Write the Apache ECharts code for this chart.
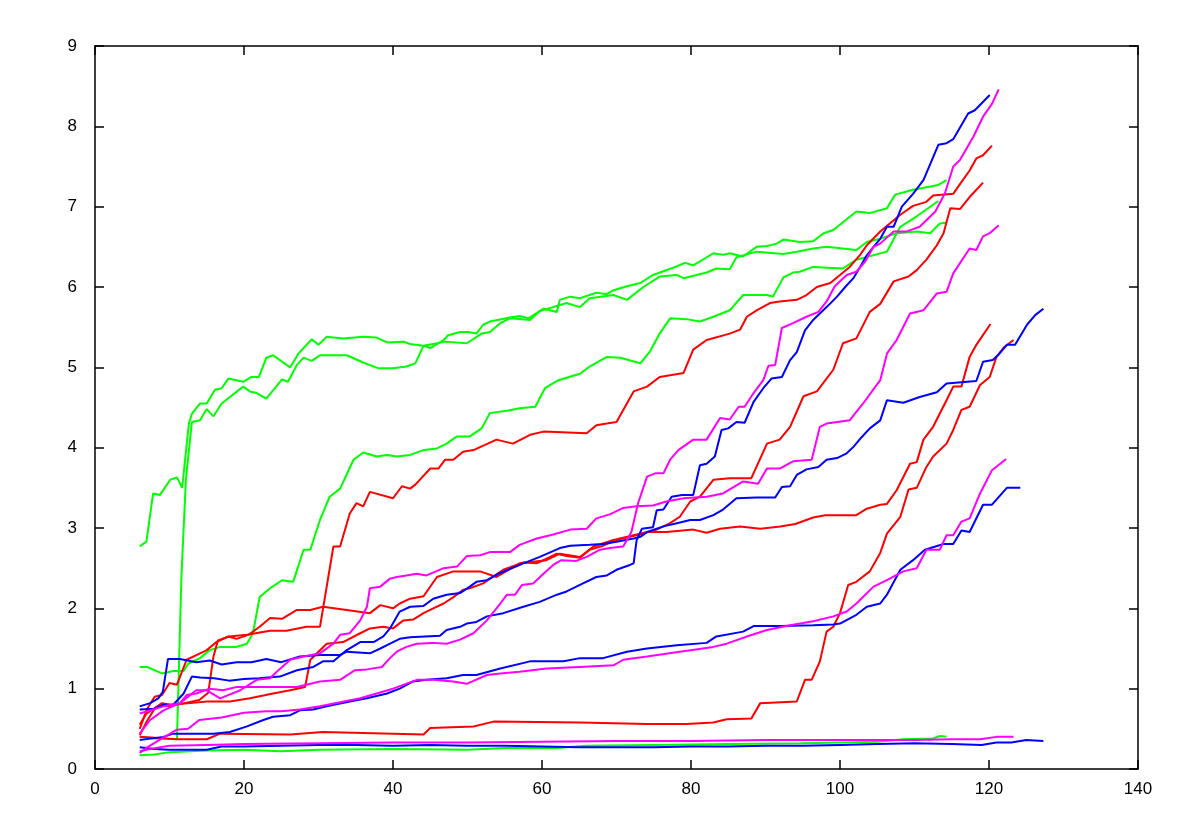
<!DOCTYPE html>
<html>
<head>
<meta charset="utf-8">
<script src="https://cdn.jsdelivr.net/npm/echarts@6/dist/echarts.min.js"></script>
<style>
  html, body { margin: 0; padding: 0; background: #fff; }
  #chart { width: 1196px; height: 823px; }
</style>
</head>
<body>
<div id="chart"></div>
<script>
// axis ticks
var xTicks = [0, 20, 40, 60, 80, 100, 120, 140];
var yTicks = [0, 1, 2, 3, 4, 5, 6, 7, 8, 9];

// green runs
var green1 = [[6,2.77],[6.9,2.83],[7.8,3.43],[8.7,3.41],[10.1,3.6],[11,3.63],[11.7,3.5],[12.6,4.3],[13,4.42],[14.1,4.55],[15,4.55],[16.1,4.72],[17,4.74],[17.9,4.86],[19.9,4.82],[21,4.88],[22,4.88],[23,5.12],[23.9,5.15],[26.2,5.0],[27.3,5.17],[29.1,5.35],[30,5.28],[31.1,5.38],[33.3,5.36],[36,5.38],[37.8,5.37],[39.2,5.31],[41.4,5.32],[42.3,5.29],[44.1,5.27],[45,5.24],[46.8,5.34],[47.4,5.4],[49,5.44],[50.1,5.44],[51.2,5.42],[52.1,5.53],[53,5.57],[55.7,5.62],[57,5.64],[58.2,5.61],[60.2,5.73],[62,5.69],[62.4,5.84],[63.8,5.88],[65.1,5.86],[67.3,5.93],[68.7,5.91],[69.6,5.96],[71.4,6.01],[73.2,6.05],[74.9,6.15],[77.6,6.24],[79.2,6.3],[80.3,6.27],[83,6.42],[84.3,6.4],[85.2,6.42],[87,6.38],[88.8,6.5],[90.2,6.51],[91.5,6.54],[92.4,6.59],[94.6,6.56],[96.4,6.57],[97.8,6.67],[99.1,6.71],[102.2,6.94],[104,6.92],[106.3,6.98],[107.4,7.15],[109.8,7.21],[113.2,7.27],[114.3,7.33]];
var green2 = [[6,0.4],[8,0.38],[11,0.37],[11.6,2.4],[12.2,3.6],[13,4.32],[14.1,4.34],[15,4.48],[15.9,4.39],[17,4.55],[18.1,4.63],[19.9,4.76],[20.8,4.7],[21.7,4.68],[23,4.61],[25.1,4.85],[25.9,4.82],[27.1,5.03],[28,5.12],[29.1,5.08],[30.2,5.15],[33.8,5.15],[36,5.06],[38,4.99],[40,4.99],[41.8,5.01],[43,5.05],[44.1,5.27],[47,5.32],[49.9,5.3],[51.9,5.42],[53,5.44],[54.4,5.55],[55.7,5.61],[58.4,5.59],[59.7,5.7],[63.3,5.8],[65.1,5.75],[66.4,5.86],[69.6,5.9],[71.4,5.84],[73.6,6.0],[75.8,6.13],[78.1,6.15],[79,6.11],[82.1,6.18],[83.4,6.23],[85.2,6.22],[86.1,6.37],[88.8,6.44],[92.4,6.41],[94.2,6.44],[96.4,6.48],[98.2,6.5],[102.2,6.46],[103.6,6.56],[105.4,6.6],[107.6,6.67],[110.3,6.69],[112.1,6.67],[113.4,6.79],[114.3,6.8]];
var green3 = [[6,1.27],[7,1.27],[9,1.19],[10.5,1.22],[11.9,1.22],[12.5,1.31],[14.1,1.38],[15.4,1.48],[16.8,1.52],[19,1.52],[20.4,1.56],[21.2,1.69],[22.1,2.14],[23.5,2.25],[25.1,2.35],[26.6,2.33],[28,2.73],[28.9,2.73],[30.2,3.1],[31.5,3.39],[32.9,3.49],[34.7,3.85],[36,3.94],[37.8,3.89],[39.2,3.91],[40.5,3.89],[42.3,3.91],[44.1,3.97],[45.9,3.99],[47.2,4.05],[48.6,4.14],[50.3,4.14],[51.9,4.24],[53,4.43],[55.3,4.46],[57,4.49],[59.1,4.51],[60.4,4.74],[62.2,4.84],[65.1,4.92],[66.4,5.01],[68.7,5.13],[70.5,5.12],[73.2,5.05],[74.5,5.2],[75.8,5.42],[77.2,5.61],[79.4,5.6],[81.2,5.57],[83,5.63],[85.2,5.71],[87,5.9],[90.2,5.9],[91,5.88],[92.4,6.12],[93.7,6.18],[94.6,6.19],[96.4,6.25],[100.4,6.23],[102.2,6.34],[106.3,6.44],[108.1,6.75],[110.3,6.88],[113.2,7.07]];
var green4 = [[6,0.17],[8,0.18],[10,0.21],[15,0.23],[20,0.24],[25,0.22],[30,0.24],[40,0.25],[50,0.24],[55,0.26],[62,0.26],[66,0.29],[75,0.3],[85,0.31],[95,0.32],[100,0.33],[105,0.34],[108.5,0.37],[112.5,0.38],[113.4,0.41],[114.3,0.4]];

// red runs
var red1 = [[6,0.42],[7,0.6],[8,0.75],[9,0.8],[10,0.78],[12,0.82],[14,0.86],[15.2,0.95],[15.9,1.4],[16.5,1.6],[18,1.65],[20.4,1.67],[23.5,1.72],[25.7,1.72],[28.4,1.77],[30.2,1.77],[32,2.77],[32.9,2.77],[34.2,3.18],[35.1,3.31],[36,3.27],[36.9,3.45],[40,3.37],[41.2,3.52],[42.3,3.49],[43,3.54],[45,3.74],[46.1,3.74],[47,3.85],[48.1,3.85],[49.4,3.95],[50.8,3.97],[53.9,4.1],[56.1,4.05],[58.4,4.16],[60.2,4.2],[66,4.18],[67.3,4.28],[68.7,4.3],[70,4.32],[72.3,4.7],[74.1,4.76],[75.8,4.88],[79,4.93],[80.3,5.22],[82.1,5.34],[85.2,5.42],[86.6,5.47],[87.5,5.63],[88.8,5.71],[90.6,5.8],[91.9,5.82],[94.2,5.84],[95.5,5.9],[96.9,6.0],[98.7,6.05],[100,6.15],[101.3,6.25],[102.7,6.4],[103.6,6.52],[105.4,6.69],[108.1,6.9],[109.8,7.01],[111.6,7.06],[112.5,7.14],[115.2,7.16],[116.1,7.28],[117.4,7.45],[118.3,7.6],[119.2,7.64],[120.4,7.76]];
var red2 = [[6,0.55],[6.9,0.69],[9,0.82],[10.1,0.8],[12.8,0.82],[15,0.84],[18.1,0.84],[20.8,0.88],[23.9,0.94],[26.2,0.98],[28.2,1.02],[28.9,1.36],[31.1,1.56],[33.3,1.58],[35.6,1.69],[36.9,1.75],[38.7,1.77],[40,1.75],[41.4,1.85],[42.7,1.86],[44.1,1.94],[45.4,2.0],[46.8,2.06],[48.1,2.14],[49.4,2.23],[50.3,2.25],[52.1,2.31],[54.8,2.48],[57.5,2.57],[59.3,2.56],[62,2.68],[63.3,2.65],[65.1,2.63],[66.4,2.73],[68.2,2.78],[70,2.85],[71.8,2.89],[73.6,2.93],[75.4,2.98],[77.2,3.06],[78.5,3.14],[79.9,3.33],[81.2,3.39],[83,3.6],[85.2,3.62],[88.1,3.62],[90.2,4.05],[91.9,4.1],[93.3,4.26],[95.1,4.64],[96.9,4.7],[99.1,4.97],[100.4,5.3],[102.2,5.36],[104,5.69],[105.4,5.79],[107.2,6.07],[109.2,6.13],[110.3,6.21],[111.6,6.34],[113,6.52],[113.9,6.67],[114.8,6.98],[116.1,6.97],[117.4,7.12],[119.2,7.3]];
var red3 = [[6,0.5],[7,0.75],[8,0.9],[9,0.92],[10,1.07],[11,1.05],[12.3,1.36],[14.1,1.44],[15,1.48],[16.3,1.58],[17.9,1.65],[19,1.62],[20.6,1.67],[22.1,1.77],[23.5,1.88],[25.1,1.87],[27.1,1.98],[28.9,1.98],[30.6,2.02],[33.8,1.98],[36.9,1.94],[38.3,2.04],[40,2.0],[40.9,2.06],[42.3,2.12],[44.1,2.15],[45.9,2.39],[48.1,2.46],[51.7,2.46],[53.9,2.39],[57,2.56],[60.6,2.6],[62.4,2.68],[65.1,2.64],[66.9,2.77],[69.6,2.85],[72.3,2.91],[74.1,2.95],[76.7,2.95],[80.3,2.98],[82.1,2.94],[83.9,2.99],[86.6,3.02],[89.3,2.99],[92,3.02],[94,3.05],[96.4,3.13],[98,3.16],[102.2,3.16],[103.6,3.24],[105.4,3.29],[106.3,3.3],[107.6,3.47],[109.4,3.8],[110.3,3.82],[111.2,4.1],[112.5,4.26],[114.3,4.59],[115.2,4.76],[116.3,4.76],[117.4,5.13],[118.3,5.28],[120.2,5.54]];
var red4 = [[6,0.4],[11,0.37],[15,0.37],[16.8,0.44],[26.2,0.43],[30.6,0.46],[44.1,0.43],[45,0.51],[50.8,0.53],[53.5,0.59],[65.1,0.58],[74.1,0.56],[79.4,0.56],[83,0.58],[84.8,0.62],[88.1,0.63],[89.3,0.82],[94.2,0.84],[95.3,1.11],[96.2,1.11],[97.3,1.34],[98.2,1.71],[99.1,1.77],[100,1.94],[101.1,2.29],[102.2,2.33],[104,2.46],[105.4,2.69],[106.3,2.93],[108.1,3.14],[109.2,3.48],[110.3,3.5],[111.6,3.76],[112.5,3.89],[114.3,4.05],[115.2,4.22],[116.3,4.47],[117.4,4.51],[118.8,4.78],[120.1,4.88],[121,5.13],[122,5.25],[123.3,5.34]];

// blue runs
var blue1 = [[6,0.78],[7.4,0.82],[8.5,0.88],[9.1,0.96],[9.8,1.37],[11.4,1.37],[13.6,1.33],[15.4,1.35],[17,1.3],[19,1.33],[21,1.33],[23,1.37],[25,1.33],[27.5,1.4],[30.2,1.42],[32.9,1.42],[33.8,1.46],[36.9,1.44],[38.3,1.5],[39.6,1.56],[40.9,1.62],[42.3,1.64],[46.3,1.66],[47.2,1.73],[49,1.77],[49.9,1.81],[51.2,1.83],[52.6,1.9],[54.8,1.94],[57.5,2.02],[59.7,2.08],[62,2.17],[63.3,2.21],[65.5,2.31],[67.3,2.39],[68.7,2.41],[70,2.48],[71.8,2.54],[72.3,2.56],[72.7,2.85],[73.4,2.99],[74.9,3.01],[75.4,3.22],[76.3,3.23],[77.4,3.39],[78.8,3.41],[80.3,3.41],[81.2,3.78],[82.1,3.8],[83.2,3.89],[84.1,4.22],[85,4.24],[86.1,4.32],[87.2,4.31],[88.4,4.57],[89.7,4.74],[90.8,4.86],[92.2,4.88],[93.3,5.09],[94.2,5.19],[95.3,5.46],[96.4,5.59],[98.2,5.75],[99.6,5.88],[100.7,6.0],[101.8,6.11],[102.7,6.25],[103.5,6.38],[104.5,6.5],[105.4,6.6],[106.3,6.75],[107.2,6.75],[108.3,7.0],[109.8,7.16],[111.2,7.33],[113.2,7.77],[114.3,7.79],[115.2,7.84],[117.2,8.16],[118.1,8.2],[120.1,8.39]];
var blue2 = [[6,0.74],[8,0.75],[9.2,0.8],[10.5,0.8],[11.9,0.94],[13,1.15],[14.1,1.14],[16,1.13],[18,1.1],[20,1.12],[22,1.13],[24.8,1.15],[27.1,1.23],[29.3,1.27],[30.6,1.34],[32,1.34],[33.8,1.48],[35.6,1.58],[37.4,1.58],[38.7,1.65],[39.6,1.75],[40.9,1.96],[42.3,2.02],[44.1,2.03],[45.4,2.12],[47.2,2.17],[49,2.19],[50.3,2.27],[51.2,2.33],[52.6,2.35],[54.4,2.44],[57.5,2.56],[59.7,2.64],[62.4,2.75],[63.8,2.78],[66.4,2.79],[68.2,2.8],[70,2.83],[72.3,2.87],[73.2,2.89],[74.1,2.95],[76.3,3.02],[78.1,3.06],[79.9,3.1],[81.2,3.1],[83,3.16],[84.3,3.23],[86.1,3.37],[88.8,3.38],[91.3,3.38],[92.2,3.51],[93.3,3.52],[94.2,3.66],[95.5,3.73],[97.1,3.76],[98.2,3.85],[99.6,3.87],[100.9,3.93],[101.8,4.01],[102.9,4.13],[104,4.24],[105.4,4.34],[106.3,4.59],[108.5,4.56],[110.7,4.63],[113,4.69],[114.3,4.8],[118.3,4.83],[119.2,5.07],[120.5,5.09],[121.2,5.15],[122.4,5.28],[123.5,5.28],[125.1,5.53],[126.2,5.65],[127.3,5.73]];
var blue3 = [[6,0.36],[9.2,0.4],[10.5,0.44],[13.6,0.44],[15.9,0.44],[18.1,0.46],[20.4,0.53],[22.6,0.61],[23.9,0.65],[26.2,0.67],[27.5,0.73],[29.3,0.74],[31.1,0.78],[34.2,0.84],[36.5,0.88],[39.2,0.94],[40.9,1.0],[42.7,1.09],[44.5,1.11],[47.2,1.13],[49.4,1.17],[51.2,1.17],[54.4,1.25],[58.4,1.34],[62.9,1.34],[65.1,1.38],[68.2,1.38],[71.4,1.46],[74.1,1.5],[78.1,1.54],[82.1,1.57],[83.4,1.65],[87,1.71],[88.4,1.78],[92,1.78],[96.4,1.79],[99.1,1.8],[100,1.81],[102.2,1.92],[103.6,2.02],[105.4,2.06],[106.3,2.17],[108.1,2.48],[109.8,2.6],[111.4,2.73],[113.9,2.8],[115.2,2.8],[116.3,2.97],[117.4,2.95],[119.2,3.29],[120.4,3.29],[122.4,3.5],[124.2,3.5]];
var blue4 = [[6,0.27],[8,0.25],[10,0.24],[15,0.24],[17,0.28],[20,0.28],[25,0.29],[30,0.3],[35,0.3],[40,0.29],[45,0.3],[50,0.29],[55,0.29],[60,0.28],[65,0.27],[70,0.27],[75,0.27],[80,0.28],[85,0.28],[90,0.29],[95,0.29],[100,0.3],[105,0.31],[110,0.32],[115,0.31],[119,0.3],[121,0.33],[123,0.33],[125,0.36],[127.3,0.35]];

// magenta runs
var magenta1 = [[6,0.69],[9.2,0.78],[11.4,0.82],[12.3,0.92],[13.6,0.94],[15.4,1.0],[17.2,0.98],[19,1.02],[21.7,1.02],[24.8,1.02],[27.1,1.02],[30.2,1.09],[32.9,1.11],[34.9,1.23],[36.5,1.24],[38.5,1.27],[39.6,1.38],[40.5,1.46],[41.8,1.52],[43.2,1.56],[45.4,1.57],[47.2,1.56],[49,1.61],[50.8,1.69],[52.6,1.85],[54.4,2.06],[55.3,2.17],[56.4,2.17],[57.3,2.29],[58.8,2.31],[60.2,2.43],[61.5,2.54],[62.6,2.6],[64.6,2.59],[66,2.64],[67.8,2.73],[69.1,2.75],[70.9,2.77],[72,2.95],[72.9,3.31],[74.1,3.64],[75.2,3.68],[76.3,3.68],[77.2,3.85],[78.3,3.97],[80.3,4.1],[82.1,4.1],[83.9,4.37],[85.2,4.35],[86.4,4.51],[87.2,4.51],[88.4,4.68],[89.7,4.84],[90.4,5.02],[91.3,5.03],[92.2,5.49],[93.7,5.55],[95.5,5.63],[97.1,5.69],[98.2,5.82],[99.3,6.01],[100.9,6.15],[102.2,6.19],[103.4,6.32],[104.5,6.5],[105.4,6.54],[107.2,6.69],[108.9,6.69],[110.7,6.75],[112.8,6.94],[114.1,7.17],[115.2,7.5],[116.1,7.58],[117.9,7.87],[119.2,8.12],[120.4,8.28],[121.3,8.46]];
var magenta2 = [[6,0.44],[7.4,0.61],[9.2,0.73],[11.4,0.82],[13.6,0.98],[15,0.98],[16.8,0.88],[19.5,0.98],[21.7,1.11],[23.5,1.13],[24.4,1.21],[26.2,1.36],[28,1.4],[30.2,1.44],[32,1.56],[32.9,1.67],[34.2,1.69],[35.6,1.85],[36.5,2.02],[36.9,2.25],[38.3,2.27],[39.6,2.37],[40.5,2.39],[41.8,2.41],[43.2,2.43],[44.5,2.41],[46.8,2.5],[48.6,2.52],[49.9,2.65],[51.7,2.66],[53,2.7],[55.7,2.7],[57,2.79],[59.3,2.87],[61.5,2.92],[63.8,2.98],[66,2.99],[67.3,3.12],[69.1,3.17],[70.9,3.25],[72.7,3.27],[74.9,3.28],[76.7,3.33],[79,3.37],[82.1,3.39],[84.3,3.43],[87,3.58],[89,3.55],[90.2,3.74],[91.9,3.74],[93.7,3.83],[96.2,3.85],[97.3,4.26],[98.2,4.3],[101.3,4.34],[103.1,4.55],[105.4,4.84],[106.3,5.17],[107.6,5.34],[109.4,5.67],[111.2,5.71],[113,5.92],[114.3,5.94],[115.2,6.17],[117.4,6.48],[118.3,6.46],[119.2,6.63],[120.1,6.67],[121.3,6.77]];
var magenta3 = [[6,0.2],[7,0.27],[9,0.38],[11,0.49],[12.5,0.5],[14,0.61],[17,0.64],[20,0.7],[23,0.72],[25,0.72],[27.5,0.74],[30.2,0.78],[32.9,0.83],[35.6,0.88],[37.8,0.94],[40,1.0],[43.2,1.11],[45.4,1.11],[48.1,1.09],[49.9,1.06],[52.6,1.17],[54.4,1.19],[57,1.21],[60.6,1.25],[65.1,1.27],[69.6,1.29],[70.9,1.36],[74.1,1.4],[78.5,1.46],[83,1.52],[84.8,1.56],[87.5,1.65],[90.2,1.73],[93.3,1.79],[96.4,1.84],[99.1,1.9],[100.9,1.96],[102.2,2.06],[104.5,2.27],[106.3,2.35],[108.5,2.46],[110.3,2.5],[111.6,2.73],[113.4,2.73],[114.3,2.91],[115.2,2.91],[116.3,3.08],[117.4,3.12],[118.8,3.43],[120.4,3.72],[122.3,3.86]];
var magenta4 = [[6,0.22],[8,0.26],[10,0.29],[15,0.3],[20,0.31],[30,0.32],[40,0.33],[50,0.33],[60,0.34],[70,0.35],[80,0.35],[90,0.36],[100,0.36],[110,0.36],[115,0.37],[118.8,0.37],[121,0.4],[123.3,0.4]];

var runs = [
  [green1, '#00ff00'], [green2, '#00ff00'], [green3, '#00ff00'], [green4, '#00ff00'],
  [red1, '#ff0000'], [red2, '#ff0000'], [red3, '#ff0000'], [red4, '#ff0000'],
  [blue1, '#0000ff'], [blue2, '#0000ff'], [blue3, '#0000ff'], [blue4, '#0000ff'],
  [magenta1, '#ff00ff'], [magenta2, '#ff00ff'], [magenta3, '#ff00ff'], [magenta4, '#ff00ff']
];

var myChart = echarts.init(document.getElementById('chart'));

var tickStyle = { show: true, inside: true, length: 9, lineStyle: { color: '#000', width: 1.5 } };
var lineAx = { show: true, onZero: false, lineStyle: { color: '#000', width: 1.5 } };
var labelStyle = { color: '#000', fontSize: 17, fontFamily: 'Liberation Sans, Arial, sans-serif' };

var series = [];
for (var i = 0; i < runs.length; i++) {
  series.push({
    type: 'line',
    data: runs[i][0],
    showSymbol: false,
    symbol: 'none',
    lineStyle: { color: runs[i][1], width: 2 },
    itemStyle: { color: runs[i][1] },
    z: 2
  });
}

var option = {
  animation: false,
  backgroundColor: '#fff',
  grid: { left: 95, right: 58, top: 46, bottom: 54, containLabel: false },
  xAxis: [{
    type: 'value', min: 0, max: 140, interval: 20, position: 'bottom',
    axisLine: lineAx, axisTick: tickStyle,
    axisLabel: Object.assign({ margin: 12 }, labelStyle),
    splitLine: { show: false }
  }, {
    type: 'value', min: 0, max: 140, interval: 20, position: 'top',
    axisLine: lineAx, axisTick: tickStyle,
    axisLabel: { show: false }, splitLine: { show: false }
  }],
  yAxis: [{
    type: 'value', min: 0, max: 9, interval: 1, position: 'left',
    axisLine: lineAx, axisTick: tickStyle,
    axisLabel: Object.assign({ margin: 18 }, labelStyle),
    splitLine: { show: false }
  }, {
    type: 'value', min: 0, max: 9, interval: 1, position: 'right',
    axisLine: lineAx, axisTick: tickStyle,
    axisLabel: { show: false }, splitLine: { show: false }
  }],
  series: series
};

myChart.setOption(option);
</script>
</body>
</html>
